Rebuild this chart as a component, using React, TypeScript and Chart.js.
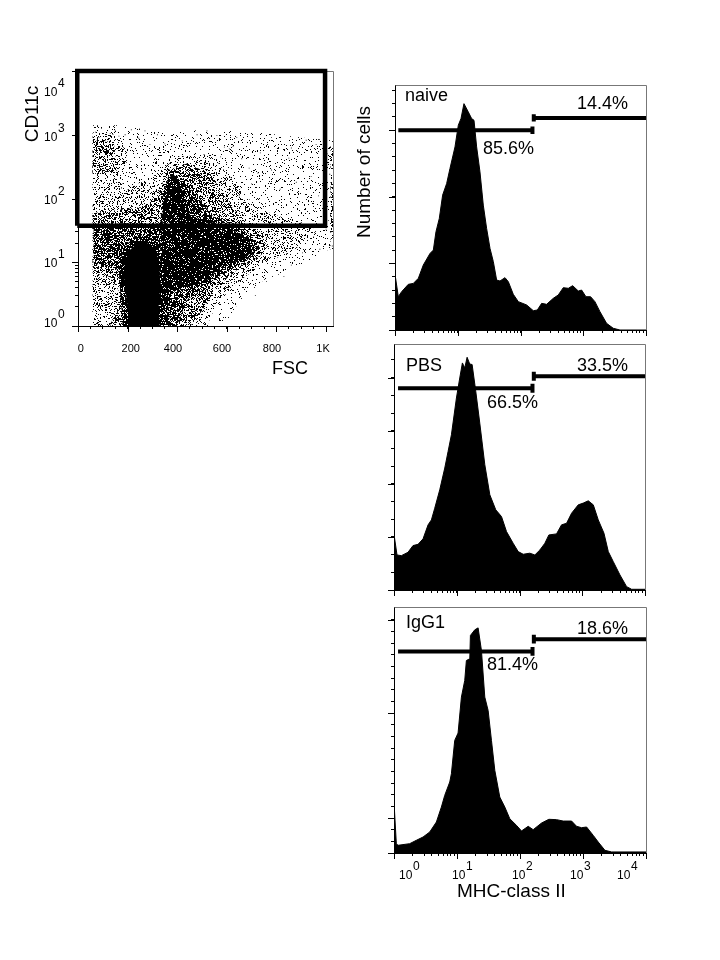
import React, { useEffect, useRef } from "react";
import { Chart, registerables } from "chart.js";

Chart.register(...registerables);

const FONT = '"Liberation Sans", Arial, sans-serif';

// ---- histogram data: log10 of MHC-class II, cells in axis tick units ----
const naiveLog = [0, 0, 0.012, 0.053, 0.106, 0.212, 0.292, 0.372, 0.451, 0.558, 0.611, 0.653, 0.706, 0.759, 0.823, 0.876, 0.956, 1.009, 1.052, 1.099, 1.168, 1.221, 1.259, 1.301, 1.354, 1.407, 1.46, 1.514, 1.567, 1.62, 1.673, 1.753, 1.806, 1.885, 1.965, 2.098, 2.204, 2.268, 2.337, 2.416, 2.523, 2.602, 2.682, 2.762, 2.831, 2.921, 2.974, 3.043, 3.117, 3.186, 3.266, 3.372, 3.478, 3.585, 4];
const naiveCells = [0, 14.4, 4, 2.5, 2.88, 3.43, 3.5, 3.88, 4.88, 5.75, 6, 7.38, 8.38, 10.13, 11, 12.13, 13.75, 15.38, 15.88, 17, 16.38, 15.88, 15.75, 13.75, 11.88, 9.38, 7.63, 6.13, 5.13, 3.75, 3.68, 3.93, 3.63, 2.68, 2.13, 1.88, 1.45, 1.5, 2, 1.93, 2.38, 2.63, 3.18, 3.13, 3.33, 2.93, 3, 2.5, 2.5, 2.13, 1.38, 0.5, 0.13, 0, 0];
const pbsLog = [0, 0, 0.012, 0.048, 0.117, 0.223, 0.303, 0.383, 0.463, 0.543, 0.596, 0.649, 0.729, 0.809, 0.862, 0.915, 0.995, 1.048, 1.09, 1.128, 1.165, 1.207, 1.245, 1.303, 1.367, 1.447, 1.527, 1.622, 1.713, 1.793, 1.899, 1.979, 2.059, 2.165, 2.245, 2.324, 2.404, 2.468, 2.59, 2.67, 2.75, 2.83, 2.936, 3.016, 3.096, 3.176, 3.255, 3.346, 3.415, 3.495, 3.601, 3.707, 3.787, 4];
const pbsCells = [0, 10.3, 3, 1.98, 1.94, 2.13, 2.51, 2.58, 2.89, 3.68, 3.96, 4.62, 5.66, 6.89, 7.83, 8.77, 10.85, 11.98, 12.83, 12.55, 13.15, 12.77, 12.74, 11.23, 9.43, 7.08, 5.38, 4.53, 4.15, 3.3, 2.64, 2.17, 2.02, 2.08, 1.98, 2.26, 2.64, 3.11, 3.17, 3.68, 3.77, 4.34, 4.81, 4.91, 5.04, 4.81, 3.96, 3.21, 2.17, 1.6, 0.85, 0.19, 0.04, 0.04];
const igg1Log = [0, 0, 0.037, 0.064, 0.249, 0.355, 0.461, 0.567, 0.673, 0.752, 0.805, 0.885, 0.911, 0.964, 1.017, 1.07, 1.123, 1.149, 1.203, 1.213, 1.282, 1.335, 1.388, 1.441, 1.494, 1.547, 1.6, 1.679, 1.759, 1.838, 1.944, 2.024, 2.13, 2.209, 2.342, 2.458, 2.58, 2.686, 2.819, 2.898, 2.977, 3.057, 3.163, 3.242, 3.348, 3.454, 4];
const igg1Cells = [0, 4.37, 0.8, 0.66, 0.8, 1.09, 1.37, 1.8, 2.66, 3.94, 4.94, 6.09, 6.8, 9.66, 10.29, 13.37, 14.8, 16.51, 16.66, 18.66, 19.14, 19.31, 17.37, 13.37, 12.23, 9.66, 7.09, 4.8, 3.94, 2.94, 2.37, 1.89, 2.29, 2, 2.57, 2.89, 2.86, 2.74, 2.74, 2.29, 2.17, 2.23, 1.51, 0.94, 0.23, 0.09, 0.09];

// ---- marker gates: start, split, end on MHC-class II, heights ----
const naiveGate = { low: 1.13, split: 155, high: 10000, lowY: 15, highY: 15.93, cap: 0.28 };
const pbsGate = { low: 1.16, split: 161, high: 10000, lowY: 11.4, highY: 12.08, cap: 0.25 };
const igg1Gate = { low: 1.16, split: 158, high: 10000, lowY: 17.29, highY: 18.34, cap: 0.37 };

const logTicks = [1, 2, 3, 4, 5, 6, 7, 8, 9, 10, 20, 30, 40, 50, 60, 70, 80, 90, 100, 200, 300, 400, 500, 600, 700, 800, 900, 1000, 2000, 3000, 4000, 5000, 6000, 7000, 8000, 9000, 10000];
const logMajor = [1, 10, 100, 1000, 10000];
const logExponents = ["0", "1", "2", "3", "4"];
const fscTicks = [0, 50, 100, 150, 200, 250, 300, 350, 400, 450, 500, 550, 600, 650, 700, 750, 800, 850, 900, 950, 1000];
const fscMajor = [0, 200, 400, 600, 800, 1000];
const fscLabels = ["0", "200", "400", "600", "800", "1K"];

// ---- dot plot: population outlines (FSC, log10 CD11c) ----
const sparseFsc = [59, 171, 359, 480, 668, 829, 937, 1027, 1027, 896, 749, 655, 587, 59];
const sparseExp = [3.15, 3.15, 3.02, 3.07, 3.07, 2.99, 2.94, 2.91, 1.24, 0.93, 0.72, 0.41, 0, 0];
const thinFsc = [59, 171, 198, 171, 319, 399, 534, 601, 695, 775, 896, 964, 870, 749, 655, 560, 520, 59];
const thinExp = [3.04, 2.99, 2.6, 2.08, 2.39, 2.65, 2.7, 2.39, 1.97, 1.77, 1.61, 1.5, 1.19, 0.98, 0.72, 0.36, 0, 0];
const dcFsc = [59, 144, 157, 77, 59];
const dcExp = [2.91, 2.89, 2.44, 2.39, 2.39];
const edgeFsc = [1018, 1028, 1028, 1018];
const edgeExp = [2.9, 2.9, 1.2, 1.2];
const midFsc = [59, 265, 325, 359, 439, 534, 601, 668, 762, 749, 641, 560, 493, 453, 130, 171, 130, 59];
const midExp = [1.77, 1.87, 2.08, 2.44, 2.55, 2.39, 1.97, 1.61, 1.4, 1.14, 0.88, 0.62, 0.2, 0, 0, 0.51, 0.77, 0.83];
const denseFsc = [63, 171, 332, 339, 366, 413, 480, 547, 668, 735, 668, 587, 520, 439, 399, 198, 191, 130, 63];
const denseExp = [1.56, 1.61, 1.61, 2.08, 2.37, 2.34, 2.03, 1.71, 1.5, 1.24, 0.98, 0.83, 0.62, 0.41, 0, 0, 0.83, 0.93, 0.98];
const heavyFsc = [339, 345, 366, 399, 426, 453, 560, 654, 715, 654, 574, 507, 426, 332, 332];
const heavyExp = [1.61, 2.08, 2.34, 2.37, 2.08, 1.71, 1.61, 1.45, 1.19, 1.03, 0.93, 0.67, 0.62, 0.41, 1.24];
const haloFsc = [180, 170, 165, 175, 200, 240, 280, 320, 345, 360, 365, 370];
const haloExp = [0, 0.55, 0.85, 1.1, 1.3, 1.42, 1.42, 1.3, 1.1, 0.8, 0.4, 0];
const coreFsc = [204, 200, 191, 184, 191, 208, 238, 271, 298, 319, 329, 332, 325, 329];
const coreExp = [0, 0.303, 0.564, 0.825, 1.034, 1.19, 1.294, 1.321, 1.253, 1.112, 0.877, 0.616, 0.355, 0];

// single events outside the clouds
const dotFsc = [70, 85, 95, 110, 130, 150, 165, 190, 215, 245, 270, 290, 320, 350, 420, 480, 520, 560, 590, 640, 700, 780, 860, 920, 960, 1005, 1015, 1022, 1010, 1020, 1025, 990, 970, 940, 905, 880, 850, 815, 780, 735, 700, 660, 625, 900, 845, 800, 760, 725, 690, 650, 610, 575, 950, 975, 1000, 905, 860, 830, 760, 715];
const dotCd11c = [1100, 900, 1250, 800, 1050, 1150, 950, 1000, 1200, 880, 1150, 700, 1000, 720, 800, 1000, 1150, 980, 640, 900, 1050, 900, 620, 820, 700, 500, 240, 90, 45, 30, 18, 60, 110, 220, 330, 180, 430, 140, 280, 520, 170, 420, 650, 42, 30, 22, 17, 250, 300, 110, 600, 450, 25, 16, 33, 14, 9, 6, 5, 3];

const xy = (xs: number[], ys: number[]) => xs.map((x, i) => ({ x, y: ys[i] }));
const expXY = (xs: number[], es: number[]) => xs.map((x, i) => ({ x, y: 10 ** es[i] }));
const logXY = (ls: number[], ys: number[]) => ls.map((l, i) => ({ x: 10 ** l, y: ys[i] }));

// Stipple texture for the filled populations (a fill style, not data)
function stipple(density: number): CanvasPattern {
  const tile = document.createElement("canvas");
  tile.width = 211;
  tile.height = 197;
  const c = tile.getContext("2d")!;
  c.fillStyle = "#000";
  for (let y = 0; y < tile.height; y++) {
    for (let x = 0; x < tile.width; x++) {
      let h = Math.imul(x + 1, 374761393) ^ Math.imul(y + 1, 668265263);
      h = Math.imul(h ^ (h >>> 13), 1274126177);
      h = (h ^ (h >>> 16)) >>> 0;
      if (h / 4294967296 < density) c.fillRect(x, y, 1, 1);
    }
  }
  return c.createPattern(tile, "repeat")!;
}

type Txt = { t: string; x: number; y: number; size: number; rot?: boolean; center?: boolean };

const textPlugin = (texts: Txt[], frame: string) => ({
  id: "labels",
  beforeDatasetsDraw(chart: any) {
    const { ctx, chartArea: a } = chart;
    ctx.save();
    ctx.strokeStyle = frame;
    ctx.lineWidth = 1;
    ctx.beginPath();
    ctx.moveTo(a.left + 0.5, a.top + 0.5);
    ctx.lineTo(a.right + 0.5, a.top + 0.5);
    ctx.lineTo(a.right + 0.5, a.bottom);
    ctx.stroke();
    ctx.restore();
  },
  afterDraw(chart: any) {
    const { ctx } = chart;
    ctx.save();
    ctx.fillStyle = "#000";
    ctx.textBaseline = "alphabetic";
    for (const s of texts) {
      ctx.save();
      ctx.font = `${s.size}px ${FONT}`;
      ctx.textAlign = s.center ? "center" : "left";
      ctx.translate(s.x, s.y);
      if (s.rot) ctx.rotate(-Math.PI / 2);
      ctx.fillText(s.t, 0, 0);
      ctx.restore();
    }
    ctx.restore();
  },
});

const majorTicks = (xMajor: number[], yMajor: number[]) => ({
  id: "majorTicks",
  afterDraw(chart: any) {
    const { ctx, scales, chartArea: a } = chart;
    ctx.save();
    ctx.strokeStyle = "#000";
    ctx.lineWidth = 1;
    ctx.beginPath();
    for (const v of xMajor) {
      const p = Math.round(scales.x.getPixelForValue(v)) + 0.5;
      ctx.moveTo(p, a.bottom);
      ctx.lineTo(p, a.bottom + 6);
    }
    for (const v of yMajor) {
      const p = Math.round(scales.y.getPixelForValue(v)) + 0.5;
      ctx.moveTo(a.left, p);
      ctx.lineTo(a.left - 6, p);
    }
    ctx.stroke();
    ctx.restore();
  },
});

const axis = (type: string, min: number, max: number, ticks: number[], size: number) => ({
  type,
  min,
  max,
  afterBuildTicks: (s: any) => {
    s.ticks = ticks.map((value) => ({ value }));
  },
  afterFit: (s: any) => {
    if (s.isHorizontal()) s.height = size;
    else s.width = size;
  },
  ticks: { display: false, autoSkip: false },
  grid: { drawOnChartArea: false, drawTicks: true, tickLength: 3, color: "#000", tickColor: "#000" },
  border: { color: "#000", width: 1 },
});

function makeChart(
  canvas: HTMLCanvasElement,
  box: { l: number; r: number; t: number; b: number },
  xAxis: any,
  yAxis: any,
  datasets: any[],
  plugins: any[],
) {
  return new Chart(canvas, {
    type: "line",
    data: { datasets },
    options: {
      animation: false,
      responsive: false,
      parsing: true,
      layout: { padding: { left: 0, top: box.t, right: 720 - box.r, bottom: 0 } },
      plugins: { legend: { display: false }, tooltip: { enabled: false } },
      scales: { x: xAxis(960 - box.b), y: yAxis(box.l) },
    } as any,
    plugins,
  } as any);
}

const gateSets = (g: typeof naiveGate) => [
  {
    data: [
      { x: g.low, y: g.lowY },
      { x: g.split, y: g.lowY },
      { x: g.split, y: g.lowY + g.cap },
      { x: g.split, y: g.lowY - g.cap },
    ],
    borderColor: "#000", borderWidth: 4, pointRadius: 0, fill: false, clip: false, borderCapStyle: "butt",
  },
  {
    data: [
      { x: g.high, y: g.highY },
      { x: g.split * 1.05, y: g.highY },
      { x: g.split * 1.05, y: g.highY + g.cap },
      { x: g.split * 1.05, y: g.highY - g.cap },
    ],
    borderColor: "#000", borderWidth: 4, pointRadius: 0, fill: false, clip: false, borderCapStyle: "butt",
  },
];

const histSet = (ls: number[], ys: number[]) => ({
  data: logXY(ls, ys),
  borderColor: "#000",
  borderWidth: 1,
  backgroundColor: "#000",
  pointRadius: 0,
  tension: 0,
  fill: "origin",
});

const expLabels = (xs: number[], baseline: number): Txt[] =>
  xs.flatMap((x, i) => [
    { t: "10", x, y: baseline, size: 12 },
    { t: logExponents[i], x: x + 14, y: baseline - 9, size: 12 },
  ]);

export default function App() {
  const a = useRef<HTMLCanvasElement>(null);
  const b = useRef<HTMLCanvasElement>(null);
  const c = useRef<HTMLCanvasElement>(null);
  const d = useRef<HTMLCanvasElement>(null);

  useEffect(() => {
    const region = (xs: number[], es: number[], density: number) => ({
      data: expXY(xs, es),
      borderWidth: 0,
      pointRadius: 0,
      backgroundColor: stipple(density),
      fill: "shape",
    });
    const scatterTexts: Txt[] = [
      { t: "CD11c", x: 38, y: 114, size: 19, rot: true, center: true },
      { t: "FSC", x: 272, y: 374, size: 18 },
      ...fscLabels.map((t, i) => ({
        t,
        x: [80.7, 130.7, 173, 222, 272, 323][i],
        y: 352,
        size: 11,
        center: true,
      })),
      ...[[44, 327], [44, 267], [44, 204], [44, 141], [44, 96]].flatMap(([x, y], i) => [
        { t: "10", x, y, size: 12 },
        { t: logExponents[i], x: x + 14, y: y - 9, size: 12 },
      ]),
    ];
    const charts = [
      makeChart(
        a.current!,
        { l: 78, r: 333, t: 71, b: 326 },
        (s: number) => axis("linear", 0, 1028, fscTicks, s),
        (s: number) => axis("logarithmic", 1, 10000, logTicks, s),
        [
          {
            data: [
              { x: -3, y: 37.4 },
              { x: -3, y: 10000 },
              { x: 996, y: 10000 },
              { x: 996, y: 37.4 },
              { x: -3, y: 37.4 },
            ],
            borderColor: "#000", borderWidth: 4.5, pointRadius: 0, fill: false, clip: false, borderJoinStyle: "miter",
          },
          {
            data: xy(dotFsc, dotCd11c),
            showLine: false, pointStyle: "rect", pointRadius: 0.6, borderWidth: 0, backgroundColor: "#000",
          },
          { data: expXY(coreFsc, coreExp), borderWidth: 0, pointRadius: 0, backgroundColor: "#000", fill: "shape" },
          region(haloFsc, haloExp, 0.85),
          region(heavyFsc, heavyExp, 0.9),
          region(denseFsc, denseExp, 0.7),
          region(midFsc, midExp, 0.46),
          region(dcFsc, dcExp, 0.36),
          region(edgeFsc, edgeExp, 0.3),
          region(thinFsc, thinExp, 0.22),
          region(sparseFsc, sparseExp, 0.07),
        ],
        [textPlugin(scatterTexts, "#777"), majorTicks(fscMajor, logMajor)],
      ),
      makeChart(
        b.current!,
        { l: 395, r: 646, t: 85, b: 330 },
        (s: number) => axis("logarithmic", 1, 10000, logTicks, s),
        (s: number) => axis("linear", 0, 18.4, [0, 1, 2, 3, 4, 5, 6, 7, 8, 9, 10, 11, 12, 13, 14, 15, 16, 17, 18], s),
        [...gateSets(naiveGate), histSet(naiveLog, naiveCells)],
        [
          textPlugin(
            [
              { t: "Number of cells", x: 370, y: 172, size: 19, rot: true, center: true },
              { t: "naive", x: 405, y: 101, size: 18 },
              { t: "14.4%", x: 577, y: 109, size: 18 },
              { t: "85.6%", x: 483, y: 154, size: 18 },
            ],
            "#777",
          ),
          majorTicks(logMajor, [0, 5, 10, 15]),
        ],
      ),
      makeChart(
        c.current!,
        { l: 394, r: 645, t: 344, b: 590 },
        (s: number) => axis("logarithmic", 1, 10000, logTicks, s),
        (s: number) => axis("linear", 0, 13.9, [0, 1, 2, 3, 4, 5, 6, 7, 8, 9, 10, 11, 12, 13], s),
        [...gateSets(pbsGate), histSet(pbsLog, pbsCells)],
        [
          textPlugin(
            [
              { t: "PBS", x: 406, y: 371, size: 18 },
              { t: "33.5%", x: 577, y: 371, size: 18 },
              { t: "66.5%", x: 487, y: 408, size: 18 },
            ],
            "#777",
          ),
          majorTicks(logMajor, [0, 3, 6, 9, 12]),
        ],
      ),
      makeChart(
        d.current!,
        { l: 394, r: 646, t: 607, b: 853 },
        (s: number) => axis("logarithmic", 1, 10000, logTicks, s),
        (s: number) => axis("linear", 0, 21.1, [0, 1, 2, 3, 4, 5, 6, 7, 8, 9, 10, 11, 12, 13, 14, 15, 16, 17, 18, 19, 20], s),
        [...gateSets(igg1Gate), histSet(igg1Log, igg1Cells)],
        [
          textPlugin(
            [
              { t: "IgG1", x: 406, y: 628, size: 18 },
              { t: "18.6%", x: 577, y: 634, size: 18 },
              { t: "81.4%", x: 487, y: 670, size: 18 },
              { t: "MHC-class II", x: 457, y: 897, size: 19 },
              ...expLabels([399, 452, 512, 570, 617], 879),
            ],
            "#777",
          ),
          majorTicks(logMajor, [0, 3, 12, 20]),
        ],
      ),
    ];
    return () => charts.forEach((ch) => ch.destroy());
  }, []);

  const style: React.CSSProperties = { position: "absolute", left: 0, top: 0 };
  return (
    <div style={{ position: "absolute", left: 0, top: 0, width: 720, height: 960, background: "#fff" }}>
      <canvas ref={a} width={720} height={960} style={style} />
      <canvas ref={b} width={720} height={960} style={style} />
      <canvas ref={c} width={720} height={960} style={style} />
      <canvas ref={d} width={720} height={960} style={style} />
    </div>
  );
}
